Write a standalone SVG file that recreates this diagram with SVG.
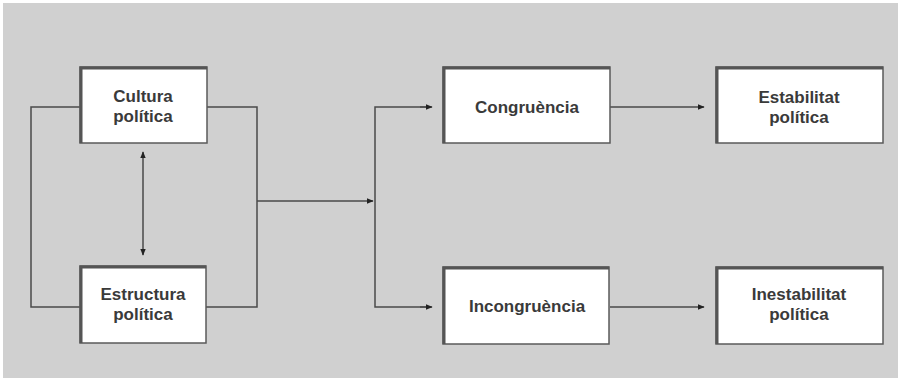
<svg xmlns="http://www.w3.org/2000/svg" width="901" height="382" viewBox="0 0 901 382">
<style>
.box{fill:#ffffff;stroke:#5a5a5a;stroke-width:1.5}
.top{stroke:#555;stroke-width:3;fill:none}
.lbl{font-family:"Liberation Sans",Arial,sans-serif;font-size:17px;font-weight:bold;fill:#3a3a3a;text-anchor:middle}
.ln{stroke:#4a4a4a;stroke-width:1.5;fill:none}
</style>
<defs>
<marker id="ah" viewBox="0 0 10 10" refX="9" refY="5" markerWidth="7" markerHeight="7" markerUnits="userSpaceOnUse" orient="auto-start-reverse">
<path d="M0,1 L10,5 L0,9 z" fill="#222"/>
</marker>
</defs>
<rect x="0" y="0" width="901" height="382" fill="#ffffff"/>
<rect x="3" y="3" width="895" height="375" fill="#d0d0d0"/>
<g id="connectors">
<polyline class="ln" points="80,107 31,107 31,307 80,307"/>
<polyline class="ln" points="207,107 257,107 257,307 206,307"/>
<line class="ln" x1="143" y1="152" x2="143" y2="255" marker-start="url(#ah)" marker-end="url(#ah)"/>
<line class="ln" x1="257" y1="201" x2="373" y2="201" marker-end="url(#ah)"/>
<polyline class="ln" points="430,107 375,107 375,307 430,307"/>
<line class="ln" x1="420" y1="107" x2="432" y2="107" marker-end="url(#ah)"/>
<line class="ln" x1="420" y1="307" x2="432" y2="307" marker-end="url(#ah)"/>
<line class="ln" x1="610" y1="107" x2="704" y2="107" marker-end="url(#ah)"/>
<line class="ln" x1="610" y1="307" x2="704" y2="307" marker-end="url(#ah)"/>
</g>
<g id="cultura">
<rect class="box" x="80" y="67" width="127" height="76"/>
<polyline class="top" points="81,143 81,68 207,68"/>
<text class="lbl" x="143" y="102">Cultura</text>
<text class="lbl" x="143" y="122">política</text>
</g>
<g id="estructura">
<rect class="box" x="80" y="266" width="126" height="77"/>
<polyline class="top" points="81,343 81,267 206,267"/>
<text class="lbl" x="143" y="300">Estructura</text>
<text class="lbl" x="143" y="320">política</text>
</g>
<g id="congruencia">
<rect class="box" x="443" y="67" width="167" height="76"/>
<polyline class="top" points="444,143 444,68 610,68"/>
<text class="lbl" x="527" y="113">Congruència</text>
</g>
<g id="incongruencia">
<rect class="box" x="443" y="267" width="166" height="77"/>
<polyline class="top" points="444,344 444,268 609,268"/>
<text class="lbl" x="527" y="312">Incongruència</text>
</g>
<g id="estabilitat">
<rect class="box" x="716" y="67" width="167" height="76"/>
<polyline class="top" points="717,143 717,68 883,68"/>
<text class="lbl" x="799" y="103">Estabilitat</text>
<text class="lbl" x="799" y="123">política</text>
</g>
<g id="inestabilitat">
<rect class="box" x="716" y="267" width="167" height="77"/>
<polyline class="top" points="717,344 717,268 883,268"/>
<text class="lbl" x="799" y="300">Inestabilitat</text>
<text class="lbl" x="799" y="320">política</text>
</g>
</svg>
